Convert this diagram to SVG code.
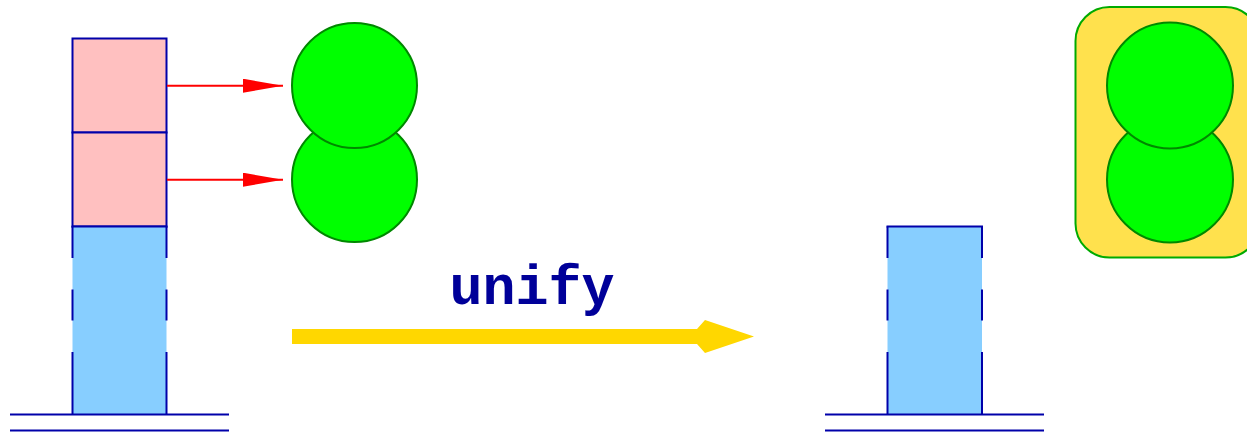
<svg xmlns="http://www.w3.org/2000/svg" width="1247" height="433" viewBox="0 0 1247 433">
<style>
.cell{stroke:#0000AA;stroke-width:2}
.pink{fill:#FFC0C0}
.blue{fill:#87CEFF;stroke:none}
.side{stroke:#0000AA;stroke-width:2;fill:none}
.ground{stroke:#0000AA;stroke-width:2}
.ball{fill:#00FF00;stroke:#008800;stroke-width:2}
.ptr{stroke:#FF0000;stroke-width:2;fill:none}
</style>
<defs>
<marker id="ah" markerUnits="userSpaceOnUse" markerWidth="42" markerHeight="16" refX="40" refY="7" orient="auto">
<polygon points="0,0 40,7 0,14" fill="#FF0000"/>
</marker>
</defs>
<g id="left-stack">
<rect class="cell pink" x="72.5" y="38.5" width="94" height="94"/>
<rect class="cell pink" x="72.5" y="132.5" width="94" height="94"/>
<rect class="blue" x="72.5" y="226.5" width="94" height="188"/>
<line class="side" x1="71.5" y1="226.5" x2="167.5" y2="226.5"/>
<line class="side" x1="72.5" y1="226.5" x2="72.5" y2="258" />
<line class="side" x1="72.5" y1="289.5" x2="72.5" y2="320.5"/>
<line class="side" x1="72.5" y1="352" x2="72.5" y2="414.5"/>
<line class="side" x1="166.5" y1="226.5" x2="166.5" y2="258"/>
<line class="side" x1="166.5" y1="289.5" x2="166.5" y2="320.5"/>
<line class="side" x1="166.5" y1="352" x2="166.5" y2="414.5"/>
<line class="ground" x1="10" y1="414.5" x2="229" y2="414.5"/>
<line class="ground" x1="10" y1="430.5" x2="229" y2="430.5"/>
</g>
<g id="left-balls">
<circle class="ball" cx="354.5" cy="179.5" r="62.5"/>
<circle class="ball" cx="354.5" cy="85.5" r="62.5"/>
</g>
<g id="right-stack">
<rect class="blue" x="887.5" y="226.5" width="94.5" height="188"/>
<line class="side" x1="886.5" y1="226.5" x2="983" y2="226.5"/>
<line class="side" x1="887.5" y1="226.5" x2="887.5" y2="258"/>
<line class="side" x1="887.5" y1="289.5" x2="887.5" y2="320.5"/>
<line class="side" x1="887.5" y1="352" x2="887.5" y2="414.5"/>
<line class="side" x1="982" y1="226.5" x2="982" y2="258"/>
<line class="side" x1="982" y1="289.5" x2="982" y2="320.5"/>
<line class="side" x1="982" y1="352" x2="982" y2="414.5"/>
<line class="ground" x1="825" y1="414.5" x2="1044" y2="414.5"/>
<line class="ground" x1="825" y1="430.5" x2="1044" y2="430.5"/>
</g>
<g id="right-group">
<rect x="1075.5" y="7" width="184" height="250.5" rx="34" ry="34" fill="#FFE14D" stroke="#00AA00" stroke-width="2"/>
<circle class="ball" cx="1170" cy="179.5" r="63"/>
<circle class="ball" cx="1170" cy="85.5" r="63"/>
</g>
<g id="connectors">
<line class="ptr" x1="167" y1="85.7" x2="283" y2="85.7" marker-end="url(#ah)"/>
<line class="ptr" x1="167" y1="179.7" x2="283" y2="179.7" marker-end="url(#ah)"/>
<polygon points="292,329 697,329 705,320 754,336.5 705,353 697,344 292,344" fill="#FFD700"/>
<text x="532" y="304" text-anchor="middle" font-family="'Liberation Mono', monospace" font-weight="bold" font-size="55" fill="#000099">unify</text>
</g>
</svg>
